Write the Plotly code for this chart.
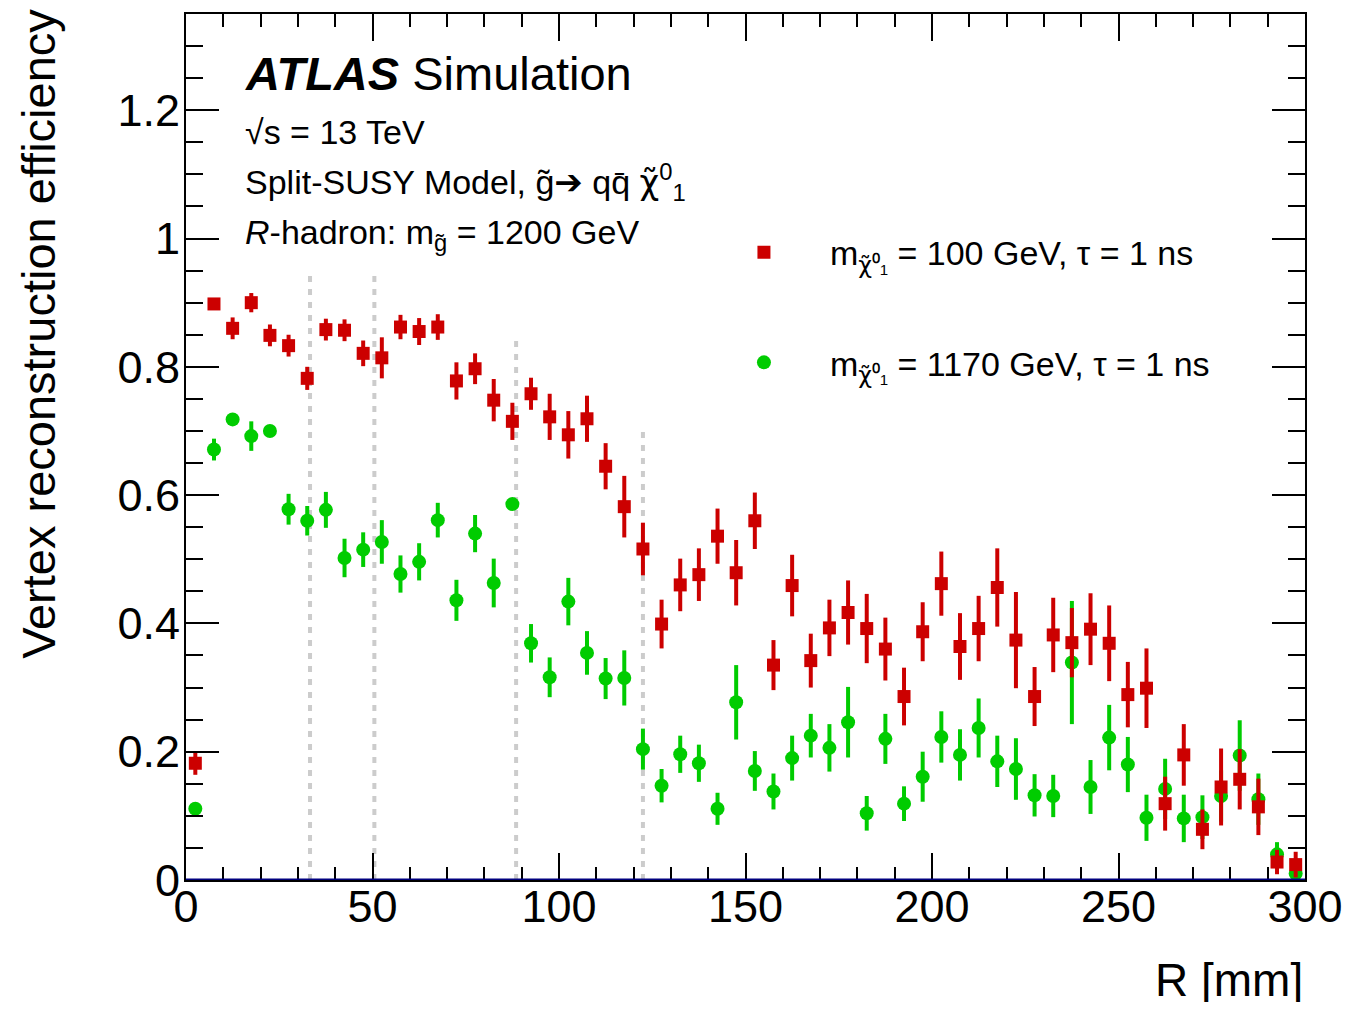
import plotly.graph_objects as go

# ---------------- data ----------------
r_mm = [2.5, 7.5, 12.5, 17.5, 22.5, 27.5, 32.5, 37.5, 42.5, 47.5,
        52.5, 57.5, 62.5, 67.5, 72.5, 77.5, 82.5, 87.5, 92.5, 97.5,
        102.5, 107.5, 112.5, 117.5, 122.5, 127.5, 132.5, 137.5, 142.5, 147.5,
        152.5, 157.5, 162.5, 167.5, 172.5, 177.5, 182.5, 187.5, 192.5, 197.5,
        202.5, 207.5, 212.5, 217.5, 222.5, 227.5, 232.5, 237.5, 242.5, 247.5,
        252.5, 257.5, 262.5, 267.5, 272.5, 277.5, 282.5, 287.5, 292.5, 297.5]

eff_100 = [0.182, 0.898, 0.860, 0.900, 0.849, 0.833, 0.782, 0.858, 0.857, 0.821,
           0.814, 0.862, 0.855, 0.862, 0.778, 0.797, 0.748, 0.715, 0.758, 0.722,
           0.694, 0.719, 0.645, 0.582, 0.516, 0.399, 0.460, 0.476, 0.536, 0.479,
           0.560, 0.335, 0.459, 0.342, 0.393, 0.417, 0.392, 0.360, 0.286, 0.387,
           0.462, 0.364, 0.392, 0.456, 0.374, 0.286, 0.382, 0.370, 0.391, 0.369,
           0.289, 0.299, 0.119, 0.195, 0.079, 0.145, 0.157, 0.114, 0.028, 0.024]
err_100 = [0.018, 0.008, 0.017, 0.015, 0.017, 0.017, 0.018, 0.017, 0.017, 0.020,
           0.032, 0.019, 0.021, 0.020, 0.029, 0.024, 0.033, 0.029, 0.025, 0.036,
           0.037, 0.036, 0.036, 0.048, 0.041, 0.038, 0.041, 0.041, 0.043, 0.051,
           0.044, 0.039, 0.048, 0.042, 0.044, 0.050, 0.054, 0.049, 0.045, 0.046,
           0.050, 0.052, 0.051, 0.061, 0.075, 0.046, 0.058, 0.054, 0.056, 0.059,
           0.051, 0.062, 0.042, 0.048, 0.031, 0.060, 0.047, 0.044, 0.019, 0.020]

eff_1170 = [0.111, 0.671, 0.718, 0.692, 0.700, 0.578, 0.560, 0.577, 0.502, 0.515,
            0.527, 0.477, 0.496, 0.561, 0.436, 0.540, 0.463, 0.586, 0.369, 0.316,
            0.434, 0.354, 0.314, 0.315, 0.204, 0.147, 0.196, 0.182, 0.111, 0.277,
            0.170, 0.138, 0.190, 0.225, 0.206, 0.246, 0.104, 0.220, 0.119, 0.161,
            0.223, 0.195, 0.237, 0.185, 0.173, 0.132, 0.131, 0.339, 0.145, 0.222,
            0.180, 0.097, 0.142, 0.096, 0.098, 0.131, 0.194, 0.126, 0.040, 0.010]
err_1170 = [0.005, 0.017, 0.006, 0.023, 0.006, 0.024, 0.023, 0.028, 0.030, 0.027,
            0.034, 0.029, 0.029, 0.027, 0.032, 0.029, 0.038, 0.006, 0.030, 0.031,
            0.037, 0.034, 0.032, 0.043, 0.032, 0.026, 0.029, 0.029, 0.025, 0.058,
            0.031, 0.028, 0.035, 0.034, 0.037, 0.055, 0.027, 0.039, 0.027, 0.039,
            0.040, 0.040, 0.046, 0.040, 0.048, 0.033, 0.033, 0.096, 0.042, 0.051,
            0.043, 0.036, 0.047, 0.037, 0.034, 0.040, 0.055, 0.040, 0.019, 0.010]

# pixel-layer radii (dashed guide lines) and their heights
layer_r = [33.25, 50.5, 88.5, 122.5]
layer_top = [0.95, 0.95, 0.85, 0.70]

x_range = [0, 300]
y_range = [0, 1.35]
x_ticks = [0, 50, 100, 150, 200, 250, 300]
y_ticks = [0, 0.2, 0.4, 0.6, 0.8, 1.0, 1.2]
y_ticklabels = ["0", "0.2", "0.4", "0.6", "0.8", "1", "1.2"]

CHI = "<span style='font-family:DejaVu Sans'>χ̃</span>"
label_100 = "m<sub>" + CHI + "⁰₁</sub> = 100 GeV, τ = 1 ns"
label_1170 = "m<sub>" + CHI + "⁰₁</sub> = 1170 GeV, τ = 1 ns"

RED = "#cc0000"
GREEN = "#00cc00"
FONT = "Liberation Sans, Arial, Helvetica, sans-serif"

fig = go.Figure()

# dashed layer lines
for r, top in zip(layer_r, layer_top):
    fig.add_trace(go.Scatter(
        x=[r, r], y=[0, top], mode="lines",
        line=dict(color="#cccccc", width=4, dash="6px,7px"),
        showlegend=False, hoverinfo="skip"))

fig.add_trace(go.Scatter(
    x=r_mm, y=eff_1170, mode="markers", name=label_1170,
    marker=dict(symbol="circle", size=14, color=GREEN),
    error_y=dict(type="data", array=err_1170, color=GREEN, thickness=4, width=0),
    legendgroup="g1170", legendrank=2))

fig.add_trace(go.Scatter(
    x=r_mm, y=eff_100, mode="markers", name=label_100,
    marker=dict(symbol="square", size=13, color=RED),
    error_y=dict(type="data", array=err_100, color=RED, thickness=4, width=0),
    legendgroup="g100", legendrank=1))

# baseline at y = 0
fig.add_shape(type="line", xref="x", yref="y",
              x0=x_range[0], x1=x_range[1], y0=y_range[0], y1=y_range[0],
              line=dict(color="#00007f", width=3))

fig.update_xaxes(
    range=x_range, tickvals=x_ticks, ticks="inside", ticklen=27, tickwidth=2,
    tickcolor="black", showline=True, linecolor="black", linewidth=2,
    mirror="allticks", showgrid=False, zeroline=False, ticklabelstandoff=-14,
    tickfont=dict(family=FONT, size=45, color="black"),
    minor=dict(dtick=10, ticks="inside", ticklen=13, tickwidth=2,
               tickcolor="black", showgrid=False))
fig.update_yaxes(
    range=y_range, tickvals=y_ticks, ticktext=y_ticklabels, ticks="inside",
    ticklen=33, tickwidth=2, tickcolor="black", showline=True,
    linecolor="black", linewidth=2, mirror="allticks", showgrid=False,
    zeroline=False, ticklabelstandoff=-5,
    tickfont=dict(family=FONT, size=45, color="black"),
    minor=dict(dtick=0.05, ticks="inside", ticklen=17, tickwidth=2,
               tickcolor="black", showgrid=False))

annotations = [
    dict(text="R [mm]", xref="paper", yref="paper", x=1.0, y=-0.1155,
         xanchor="right", yanchor="middle", showarrow=False, height=44,
         valign="middle",
         font=dict(family=FONT, size=46, color="black")),
    dict(text="Vertex reconstruction efficiency", xref="paper", yref="paper",
         x=-0.1325, y=1.008, xanchor="center", yanchor="top", textangle=-90,
         showarrow=False, font=dict(family=FONT, size=47, color="black")),
    dict(text="<b><i>ATLAS</i></b> Simulation", xref="paper", yref="paper",
         x=0.051, y=0.931, xanchor="left", yanchor="middle", showarrow=False,
         font=dict(family=FONT, size=47, color="black")),
    dict(text="√s = 13 TeV", xref="paper", yref="paper",
         x=0.051, y=0.864, xanchor="left", yanchor="middle", showarrow=False,
         font=dict(family=FONT, size=34, color="black")),
    dict(text="Split-SUSY Model, g̃<span style='font-family:DejaVu Sans'>➔</span> qq̄ "
         + CHI + "<sup>0</sup><sub>1</sub>", xref="paper",
         yref="paper", x=0.051, y=0.806, xanchor="left", yanchor="middle",
         showarrow=False, font=dict(family=FONT, size=34, color="black")),
    dict(text="<i>R</i>-hadron: m<sub>g̃</sub> = 1200 GeV", xref="paper",
         yref="paper", x=0.051, y=0.745, xanchor="left", yanchor="middle",
         showarrow=False, font=dict(family=FONT, size=34, color="black")),
]

# The page body has an 8px margin; offset the figure so the plot area lands
# where it is in the reference, and keep it inside the window.
fig.update_layout(
    width=1356, height=997,
    margin=dict(l=178, r=59, t=4, b=125, pad=0),
    paper_bgcolor="white", plot_bgcolor="white",
    font=dict(family=FONT, color="black"),
    annotations=annotations,
    legend=dict(x=0.4575, y=0.758, xanchor="left", yanchor="top",
                bgcolor="rgba(0,0,0,0)", borderwidth=0,
                font=dict(family=FONT, size=34, color="black"),
                itemwidth=122, tracegroupgap=63, traceorder="grouped"),
)

fig.write_html("out.html")
